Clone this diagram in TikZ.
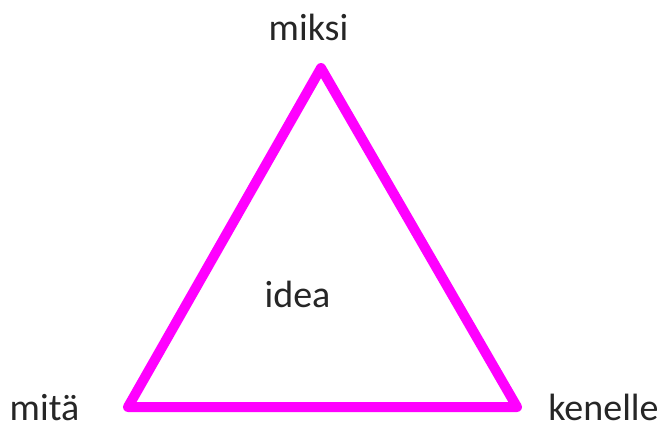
\documentclass[tikz,border=0pt]{standalone}
\usepackage{fontspec}
\setmainfont{Carlito}
\definecolor{mag}{RGB}{255,0,255}
\begin{document}
\begin{tikzpicture}[x=1pt,y=-1pt,
  lbl/.style={anchor=base,inner sep=0pt,font=\fontsize{38}{44}\selectfont,text=black!85}]
\useasboundingbox (0,0) rectangle (664,423);
\fill[white] (0,0) rectangle (664,423);
\coordinate (A) at (321,68);
\coordinate (B) at (128,407);
\coordinate (C) at (517,407);
\draw[mag,line width=10pt,line join=round,line cap=round] (A) -- (B) -- (C) -- cycle;
\node[lbl] (miksi) at (308.5,40) {miksi};
\node[lbl] (mita) at (44.5,420) {mitä};
\node[lbl] (kenelle) at (603.5,420) {kenelle};
\node[lbl] (idea) at (297.5,307) {idea};
\end{tikzpicture}
\end{document}
